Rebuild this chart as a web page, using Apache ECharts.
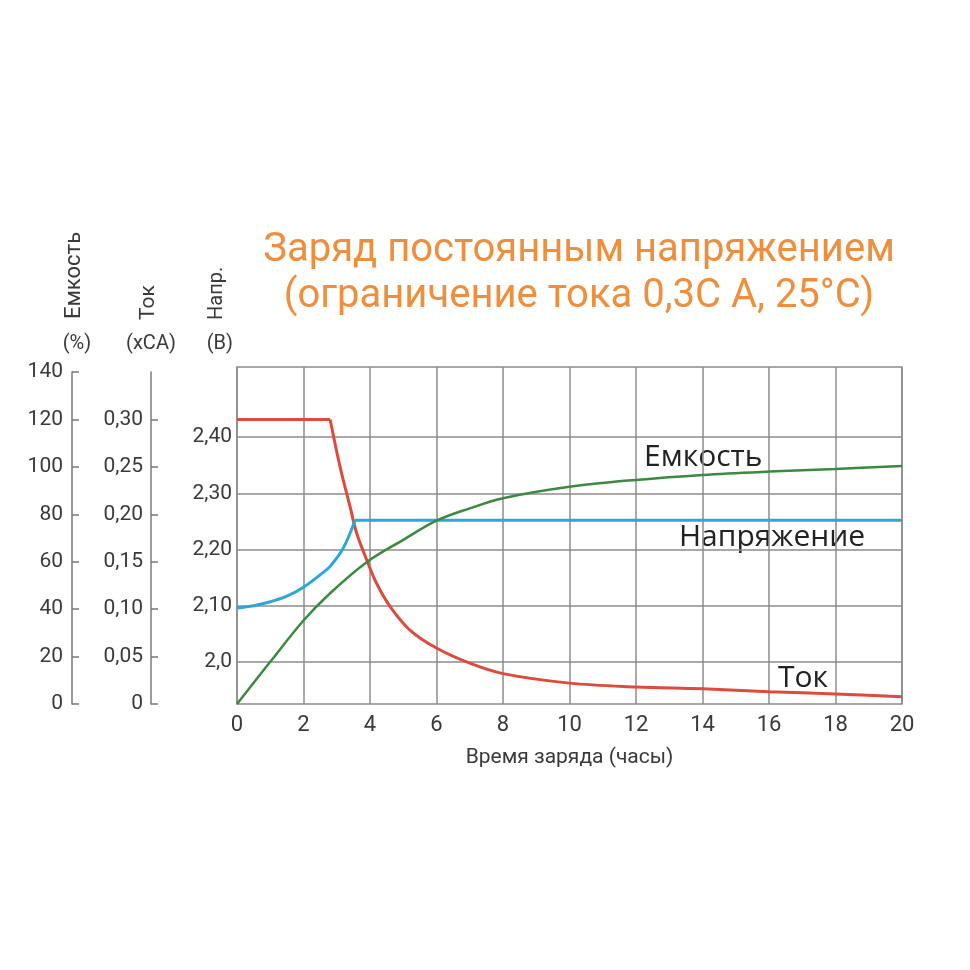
<!DOCTYPE html>
<html>
<head>
<meta charset="utf-8">
<script src="https://cdn.jsdelivr.net/npm/echarts@6/dist/echarts.min.js"></script>
<style>
  html, body { margin: 0; padding: 0; background: #fff; }
  #chart { width: 970px; height: 970px; }
</style>
</head>
<body>
<div id="chart"></div>
<script>
// Ток (xCA): constant phase up to knee, then decay
const hoursCurrent = [0, 2.8, 3.1, 3.4, 3.6, 3.9, 4.2, 4.6, 5.2, 6, 7, 8, 10, 12, 14, 16, 18, 20];
const currentCA = [0.30, 0.30, 0.250, 0.208, 0.180, 0.152, 0.127, 0.103, 0.078, 0.059, 0.043, 0.032, 0.022, 0.018, 0.016, 0.013, 0.0105, 0.0077];
const currentKnee = 1;

// Напряжение (B): rise, then held constant
const hoursVoltage = [0, 0.5, 1, 1.5, 2, 2.5, 2.8, 3.2, 3.55, 20];
const voltageV = [2.096, 2.100, 2.107, 2.117, 2.133, 2.155, 2.170, 2.203, 2.252, 2.252];
const voltageKnee = 8;

// Емкость (%)
const hoursCapacity = [0, 1, 2, 2.8, 3.9, 5, 6, 7, 8, 10, 12, 14, 16, 18, 20];
const capacityPct = [0, 17.8, 35.2, 46.7, 59.8, 69.2, 77.3, 82.5, 86.8, 91.6, 94.5, 96.6, 98.0, 99.1, 100.4];

function pairs(xs, ys) {
  return xs.map((x, i) => [x, ys[i]]);
}
function comma(v, digits) {
  return v === 0 ? "0" : v.toFixed(digits).replace(".", ",");
}

const FONT = "Roboto";
const GRID_LINE = "#8c8c8c";
const AXIS_LINE = "#7a7a7a";
const TEXT = "#3a3a3a";

const currentPts = pairs(hoursCurrent, currentCA);
const voltagePts = pairs(hoursVoltage, voltageV);
const capacityPts = pairs(hoursCapacity, capacityPct);

let mychart = echarts.init(document.getElementById("chart"));
const option = {
  backgroundColor: "#fff",
  animation: false,
  title: {
    text: "Заряд постоянным напряжением\n(ограничение тока 0,3С А, 25°С)",
    left: 574,
    top: 223,
    textAlign: "center",
    textStyle: {
      color: "#ef8e3c",
      fontFamily: FONT,
      fontWeight: "normal",
      fontSize: 40,
      lineHeight: 46,
    },
  },
  grid: [
    // frame + time axis
    { left: 237, right: 68, top: 367, bottom: 266, show: true, borderColor: GRID_LINE, borderWidth: 1.5 },
    // current / capacity scales
    { left: 237, right: 68, top: 372, bottom: 266 },
    // voltage scale, 2.0 .. 2.4
    { left: 237, right: 68, top: 437, bottom: 308 },
  ],
  xAxis: [
    {
      type: "value",
      gridIndex: 0,
      min: 0,
      max: 20,
      interval: 2,
      name: "Время заряда (часы)",
      nameLocation: "middle",
      nameGap: 43,
      nameTextStyle: { color: TEXT, fontFamily: FONT, fontSize: 21 },
      axisLine: { show: false },
      axisTick: { show: false },
      axisLabel: { color: TEXT, fontFamily: FONT, fontSize: 22, margin: 10 },
      splitLine: { show: true, lineStyle: { color: GRID_LINE, width: 1.5 } },
    },
    { type: "value", gridIndex: 1, min: 0, max: 20, show: false },
    { type: "value", gridIndex: 2, min: 0, max: 20, show: false },
  ],
  yAxis: [
    { type: "value", gridIndex: 0, min: 0, max: 1, show: false },
    {
      // Ток (xCA)
      type: "value",
      gridIndex: 1,
      position: "left",
      offset: 86,
      min: 0,
      max: 0.35,
      interval: 0.05,
      name: "(xCA)",
      nameLocation: "end",
      nameGap: 28,
      nameTextStyle: {
        color: TEXT, fontFamily: FONT, fontSize: 20,
        align: "center", verticalAlign: "middle",
      },
      axisLine: { show: true, onZero: false, lineStyle: { color: AXIS_LINE, width: 1.5 } },
      axisTick: { show: true, inside: true, length: 7, lineStyle: { color: AXIS_LINE, width: 1.5 } },
      axisLabel: {
        color: TEXT,
        fontFamily: FONT,
        fontSize: 21,
        margin: 8,
        showMaxLabel: false,
        formatter: (v) => comma(v, 2),
      },
      splitLine: { show: false },
    },
    {
      // Емкость (%)
      type: "value",
      gridIndex: 1,
      position: "left",
      offset: 165,
      min: 0,
      max: 140,
      interval: 20,
      name: "(%)",
      nameLocation: "end",
      nameGap: 28,
      nameTextStyle: {
        color: TEXT, fontFamily: FONT, fontSize: 20,
        align: "center", verticalAlign: "middle", padding: [0, 0, 0, 10],
      },
      axisLine: { show: true, onZero: false, lineStyle: { color: AXIS_LINE, width: 1.5 } },
      axisTick: { show: true, inside: true, length: 7, lineStyle: { color: AXIS_LINE, width: 1.5 } },
      axisLabel: { color: TEXT, fontFamily: FONT, fontSize: 21, margin: 9 },
      splitLine: { show: false },
    },
    {
      // Напр. (B)
      type: "value",
      gridIndex: 2,
      position: "left",
      min: 2.0,
      max: 2.4,
      interval: 0.1,
      name: "(B)",
      nameLocation: "end",
      nameGap: 93,
      nameTextStyle: {
        color: TEXT, fontFamily: FONT, fontSize: 20,
        align: "right", verticalAlign: "middle", padding: [0, 4, 0, 0],
      },
      axisLine: { show: false, onZero: false },
      axisTick: { show: false },
      axisLabel: {
        color: TEXT,
        fontFamily: FONT,
        fontSize: 21,
        margin: 5,
        formatter: (v) => (Math.abs(v - 2) < 1e-9 ? "2,0" : comma(v, 2)),
      },
      splitLine: { show: true, lineStyle: { color: GRID_LINE, width: 1.5 } },
    },
  ],
  graphic: [
    { type: "text", x: 74, y: 319, rotation: Math.PI / 2,
      style: { text: "Емкость", fill: TEXT, font: "22px Roboto", align: "left", verticalAlign: "middle" } },
    { type: "text", x: 149, y: 320, rotation: Math.PI / 2,
      style: { text: "Ток", fill: TEXT, font: "21px Roboto", align: "left", verticalAlign: "middle" } },
    { type: "text", x: 217, y: 320, rotation: Math.PI / 2,
      style: { text: "Напр.", fill: TEXT, font: "20px Roboto", align: "left", verticalAlign: "middle" } },
    { type: "text", x: 644, y: 457,
      style: { text: "Емкость", fill: "#222", font: "30px 'Open Sans'", align: "left", verticalAlign: "middle" } },
    { type: "text", x: 679, y: 537,
      style: { text: "Напряжение", fill: "#222", font: "30px 'Open Sans'", align: "left", verticalAlign: "middle" } },
    { type: "text", x: 778, y: 678,
      style: { text: "Ток", fill: "#222", font: "30px 'Open Sans'", align: "left", verticalAlign: "middle" } },
  ],
  series: [
    {
      name: "Ток",
      type: "line",
      xAxisIndex: 1,
      yAxisIndex: 1,
      showSymbol: false,
      lineStyle: { color: "#de4a3b", width: 3 },
      data: currentPts.slice(0, currentKnee + 1),
    },
    {
      name: "Ток",
      type: "line",
      xAxisIndex: 1,
      yAxisIndex: 1,
      showSymbol: false,
      smooth: 0.35,
      lineStyle: { color: "#de4a3b", width: 3 },
      data: currentPts.slice(currentKnee),
    },
    {
      name: "Напряжение",
      type: "line",
      xAxisIndex: 2,
      yAxisIndex: 3,
      showSymbol: false,
      smooth: 0.35,
      lineStyle: { color: "#2aa9d9", width: 3 },
      data: voltagePts.slice(0, voltageKnee + 1),
    },
    {
      name: "Напряжение",
      type: "line",
      xAxisIndex: 2,
      yAxisIndex: 3,
      showSymbol: false,
      lineStyle: { color: "#2aa9d9", width: 3 },
      data: voltagePts.slice(voltageKnee),
    },
    {
      name: "Емкость",
      type: "line",
      xAxisIndex: 1,
      yAxisIndex: 2,
      showSymbol: false,
      smooth: 0.35,
      lineStyle: { color: "#3b8a3f", width: 2.5 },
      data: capacityPts,
    },
  ],
};
mychart.setOption(option);
</script>
</body>
</html>
